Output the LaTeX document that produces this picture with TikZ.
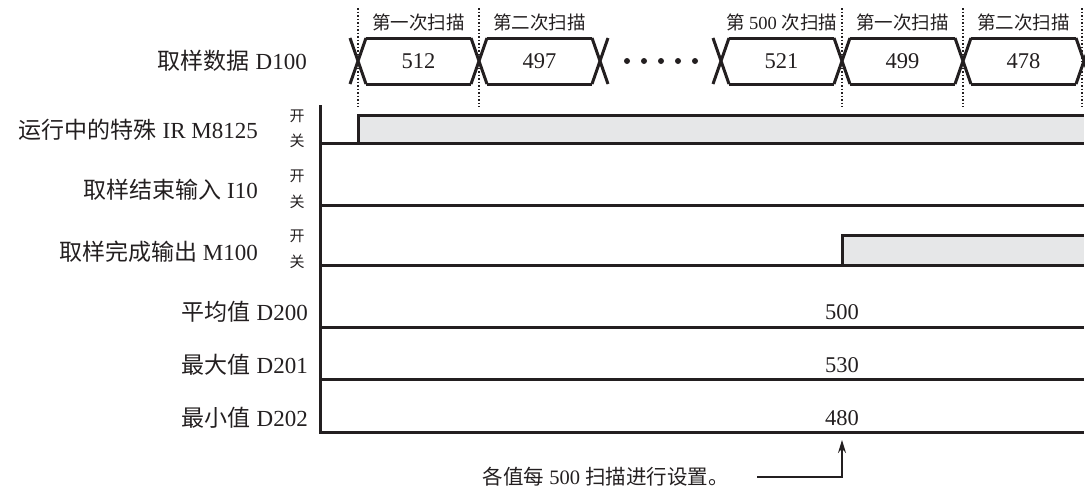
\documentclass[tikz,border=0pt]{standalone}
\usepackage{fontspec}
\setmainfont{Liberation Serif}
\newfontfamily\cjk{Noto Sans CJK SC}
\usetikzlibrary{arrows.meta, positioning}
\definecolor{ink}{HTML}{231F20}
\definecolor{pulsegray}{HTML}{E6E7E8}
\newcommand{\zh}[1]{{\cjk #1}}
\tikzset{
  sig/.style={line width=3pt, draw=ink},
  guide/.style={line width=1.5pt, draw=ink, dotted},
  lbl/.style={anchor=east, inner sep=0pt, text=ink, font=\fontsize{23}{23}\selectfont},
  val/.style={inner sep=0pt, text=ink, font=\fontsize{22.5}{22.5}\selectfont},
  scan/.style={inner sep=0pt, text=ink, font=\fontsize{18.5}{18.5}\selectfont},
  onoff/.style={inner sep=0pt, text=ink, font=\cjk\fontsize{15}{15}\selectfont},
}

\begin{document}
\begin{tikzpicture}[x=1pt, y=-1pt]
            \useasboundingbox (0,0) rectangle (1085,488);

            % --- SAMPLED DATA D100 ---
            \node[lbl] (data) at (307,61) {\zh{取样数据} D100};
            \foreach \b in {358,479,600,721,842,963,1084}
              \draw[sig] (\b-8,38) -- (\b+8,84) (\b-8,84) -- (\b+8,38);
            \foreach \l/\v/\n in {358/512/c1, 479/497/c2, 721/521/c3, 842/499/c4, 963/478/c5} {
              \draw[sig] (\l+8,38) -- (\l+113,38) (\l+8,84) -- (\l+113,84);
              \node[val] (\n) at (\l+60.5,61) {\v};
            }
            \foreach \x in {627,644,661,678,695}
              \fill[ink] (\x,61) circle (3pt);

            % scan labels and dotted guides
            \node[scan] (s1) at (418.5,22) {\zh{第一次扫描}};
            \node[scan] (s2) at (539.5,22) {\zh{第二次扫描}};
            \node[scan] (s3) at (781.5,22) {\zh{第} 500 \zh{次扫描}};
            \node[scan] (s4) at (902.5,22) {\zh{第一次扫描}};
            \node[scan] (s5) at (1023.5,22) {\zh{第二次扫描}};
            \foreach \x in {358,479,842,963,1082}
              \draw[guide] (\x,8) -- (\x,107);

            % --- BIT SIGNALS ---
            \fill[pulsegray] (358,115) rectangle (1084,143);
            \fill[pulsegray] (842,235) rectangle (1084,265);
            \draw[sig] (358,143) -- (358,115) -- (1084,115);
            \draw[sig] (842,265) -- (842,235) -- (1084,235);

            \node[lbl] (run) at (258,130) {\zh{运行中的特殊} IR M8125};
            \node[onoff] (runon) at (297,116) {开};
            \node[onoff] (runoff) at (297,141) {关};

            \node[lbl] (endin) at (258,190) {\zh{取样结束输入} I10};
            \node[onoff] (endon) at (297,176) {开};
            \node[onoff] (endoff) at (297,202) {关};

            \node[lbl] (done) at (258,252) {\zh{取样完成输出} M100};
            \node[onoff] (doneon) at (297,236) {开};
            \node[onoff] (doneoff) at (297,262) {关};

            % --- RESULT REGISTERS ---
            \node[lbl] (avg) at (308,312) {\zh{平均值} D200};
            \node[lbl] (maxv) at (308,365) {\zh{最大值} D201};
            \node[lbl] (minv) at (308,418) {\zh{最小值} D202};
            \node[val] (avgv) at (842,312) {500};
            \node[val] (maxvv) at (842,365) {530};
            \node[val] (minvv) at (842,418) {480};

            % axis and base lines
            \draw[sig] (320,105) -- (320,432) -- (1084,432);
            \foreach \y in {143,205,265,327,379}
              \draw[sig] (320,\y) -- (1084,\y);

            % --- NOTE ---
            \node[anchor=east, inner sep=0pt, text=ink, font=\fontsize{20.5}{20.5}\selectfont] (note) at (729,477) {\zh{各值每} 500 \zh{扫描进行设置。}};
            \coordinate (tip) at (842,440);
            \draw[line width=1.6pt, draw=ink, -{Stealth[length=13pt, width=8pt]}] ([xshift=28pt]note.east) -| (tip);

        \end{tikzpicture}
\end{document}
